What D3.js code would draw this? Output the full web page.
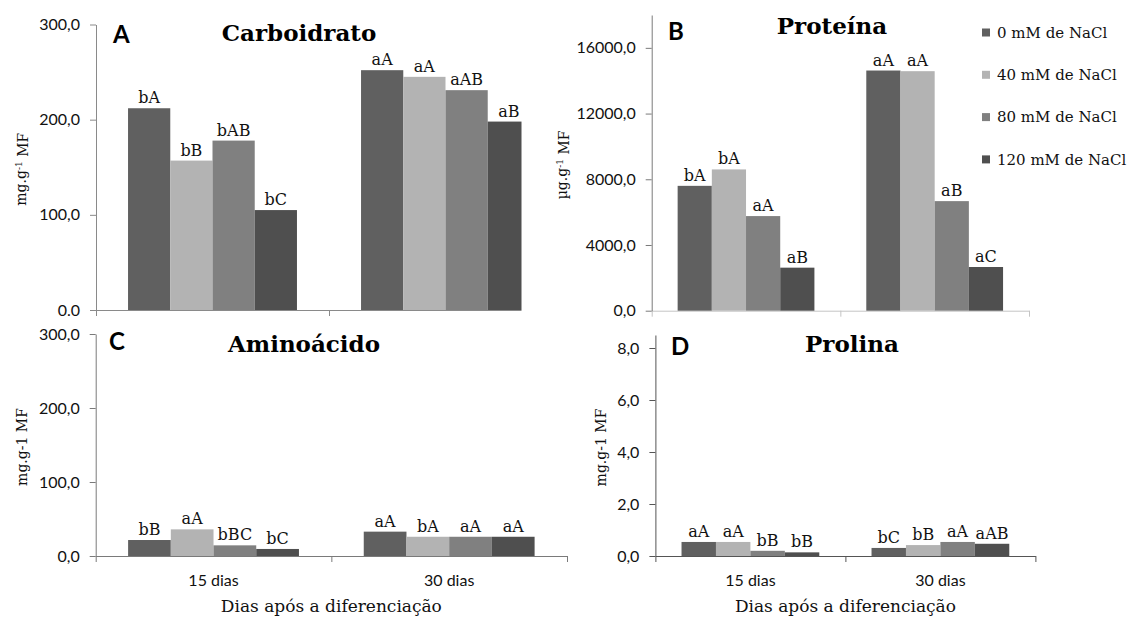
<!DOCTYPE html>
<html>
<head>
<meta charset="utf-8">
<script src="https://cdn.jsdelivr.net/npm/d3@7"></script>
<style>
  body { margin: 0; background: #fff; }
  svg { display: block; }
  .tick text { font-family: Lato, "Open Sans", sans-serif; }
</style>
</head>
<body>
<svg width="1129" height="617"></svg>
<script>
// categories and series
const days = ["15 dias", "30 dias"];
const series = ["0 mM de NaCl", "40 mM de NaCl", "80 mM de NaCl", "120 mM de NaCl"];
const colors = ["#606060", "#b3b3b3", "#808080", "#4f4f4f"];

// values, [15 dias, 30 dias] x series
const carboidrato = [[212, 157, 178, 105], [252, 245, 231, 198]];
const carboidratoLetters = [["bA", "bB", "bAB", "bC"], ["aA", "aA", "aAB", "aB"]];
const proteina = [[7600, 8600, 5760, 2620], [14620, 14580, 6670, 2660]];
const proteinaLetters = [["bA", "bA", "aA", "aB"], ["aA", "aA", "aB", "aC"]];
const aminoacido = [[21.6, 36, 14.4, 9.5], [32.9, 26, 26, 26]];
const aminoacidoLetters = [["bB", "aA", "bBC", "bC"], ["aA", "bA", "aA", "aA"]];
const prolina = [[0.54, 0.54, 0.2, 0.14], [0.31, 0.42, 0.54, 0.47]];
const prolinaLetters = [["aA", "aA", "bB", "bB"], ["bC", "bB", "aA", "aAB"]];

// tick values and labels
const carbTicks = [0, 100, 200, 300];
const carbTickLabels = ["0.0", "100,0", "200,0", "300,0"];
const protTicks = [0, 4000, 8000, 12000, 16000];
const protTickLabels = ["0,0", "4000,0", "8000,0", "12000,0", "16000,0"];
const aminoTicks = [0, 100, 200, 300];
const aminoTickLabels = ["0,0", "100,0", "200,0", "300,0"];
const prolTicks = [0, 2, 4, 6, 8];
const prolTickLabels = ["0,0", "2,0", "4,0", "6,0", "8,0"];

const svg = d3.select("svg");
const serif = "'DejaVu Serif', serif";
const sans = "Lato, 'Open Sans', sans-serif";

svg.append("clipPath").attr("id", "clipA")
  .append("rect").attr("x", 0).attr("y", 0).attr("width", 521.5).attr("height", 330);

const panels = [
  { letter: "A", title: "Carboidrato", values: carboidrato, letters: carboidratoLetters,
    ticks: carbTicks, tickLabels: carbTickLabels, ymax: 300,
    x0: 96, x1: 562, top: 24.5, bottom: 310, clip: "clipA",
    unit: "mg.g", sup: "-1", titleY: 41, titleX: 299, letterX: 113, letterY: 43,
    yTitleX: 21, axisColor: "#8a8a8a", xAxisColor: "#8a8a8a", showX: false },
  { letter: "B", title: "Proteína", values: proteina, letters: proteinaLetters,
    ticks: protTicks, tickLabels: protTickLabels, ymax: 18000,
    x0: 651.7, x1: 1029, top: 15, bottom: 310.7, clip: null,
    unit: "µg.g", sup: "-1", titleY: 34, titleX: 832, letterX: 668, letterY: 40,
    yTitleX: 562, axisColor: "#7a7a7a", xAxisColor: "#c4c4c4", showX: false },
  { letter: "C", title: "Aminoácido", values: aminoacido, letters: aminoacidoLetters,
    ticks: aminoTicks, tickLabels: aminoTickLabels, ymax: 300,
    x0: 95.7, x1: 567, top: 334, bottom: 556, clip: null,
    unit: "mg.g-1 MF", sup: null, titleY: 352, titleX: 304, letterX: 109, letterY: 350,
    yTitleX: 22, axisColor: "#7a7a7a", xAxisColor: "#7a7a7a", showX: true },
  { letter: "D", title: "Prolina", values: prolina, letters: prolinaLetters,
    ticks: prolTicks, tickLabels: prolTickLabels, ymax: 8.5,
    x0: 655.4, x1: 1035.4, top: 335, bottom: 556, clip: null,
    unit: "mg.g-1 MF", sup: null, titleY: 352, titleX: 852, letterX: 671, letterY: 355,
    yTitleX: 601.5, axisColor: "#555", xAxisColor: "#555", showX: true }
];

panels.forEach(p => {
  const g = svg.append("g");
  const x = d3.scaleBand().domain(days).range([p.x0, p.x1])
    .paddingInner(0.275).paddingOuter(0.1375);
  const xs = d3.scaleBand().domain(series).range([0, x.bandwidth()]);
  const y = d3.scaleLinear().domain([0, p.ymax]).range([p.bottom, p.top]);
  const cat = d3.scaleLinear().domain([0, days.length]).range([p.x0, p.x1]);

  const plot = g.append("g");
  if (p.clip) plot.attr("clip-path", `url(#${p.clip})`);

  // x axis line with ticks on category boundaries
  const xa = plot.append("g")
    .attr("transform", `translate(0,${p.bottom})`)
    .call(d3.axisBottom(cat).tickValues([0, 1, 2]).tickFormat("").tickSize(6).tickSizeOuter(0));
  xa.selectAll("path,line").attr("stroke", p.xAxisColor);

  const groups = plot.selectAll(".grp").data(p.values).join("g")
    .attr("transform", (d, i) => `translate(${x(days[i])},0)`);
  groups.selectAll("rect").data(d => d).join("rect")
    .attr("x", (d, j) => xs(series[j]))
    .attr("width", xs.bandwidth())
    .attr("y", d => y(d))
    .attr("height", d => p.bottom - y(d))
    .attr("fill", (d, j) => colors[j]);
  groups.selectAll("text").data((d, i) => d.map((v, j) => [v, p.letters[i][j]])).join("text")
    .attr("x", (d, j) => xs(series[j]) + xs.bandwidth() / 2)
    .attr("y", d => y(d[0]) - 5)
    .attr("text-anchor", "middle")
    .style("font-family", serif).style("font-size", "16px").attr("fill", "#111")
    .text(d => d[1]);

  // y axis
  const ya = g.append("g").attr("transform", `translate(${p.x0},0)`)
    .call(d3.axisLeft(y).tickValues(p.ticks).tickFormat((d, i) => p.tickLabels[i])
      .tickSize(6).tickSizeOuter(0).tickPadding(10));
  ya.selectAll("path,line").attr("stroke", p.axisColor);
  ya.selectAll("text").style("font-size", "16px").attr("fill", "#111");

  // category labels
  if (p.showX) {
    const xl = g.append("g").attr("transform", `translate(0,${p.bottom})`)
      .call(d3.axisBottom(x).tickSize(0).tickPadding(19));
    xl.select(".domain").remove();
    xl.selectAll("text").style("font-size", "16px").attr("fill", "#111");
    g.append("text").attr("x", (p.x0 + p.x1) / 2).attr("y", 612)
      .attr("text-anchor", "middle")
      .style("font-family", serif).style("font-size", "17px").attr("fill", "#111")
      .text("Dias após a diferenciação");
  }

  // titles
  g.append("text").attr("x", p.titleX).attr("y", p.titleY).attr("text-anchor", "middle")
    .style("font-family", serif).style("font-weight", "bold").style("font-size", "23px")
    .attr("fill", "#000").text(p.title);
  g.append("text").attr("x", p.letterX).attr("y", p.letterY)
    .style("font-family", sans).style("font-weight", "bold").style("font-size", "24px")
    .attr("fill", "#000").text(p.letter);

  // y axis title
  const yt = g.append("text")
    .attr("transform", `translate(${p.yTitleX},${(p.top + p.bottom) / 2 + 2}) rotate(-90)`)
    .attr("text-anchor", "middle").attr("dy", "0.35em")
    .style("font-family", serif).style("font-size", "14px").attr("fill", "#111");
  if (p.sup) {
    yt.append("tspan").text(p.unit);
    yt.append("tspan").attr("dy", "-0.45em").style("font-size", "9px").text(p.sup);
    yt.append("tspan").attr("dy", "0.45em").text(" MF");
  } else {
    yt.text(p.unit);
  }
});

// legend
const legend = svg.append("g").attr("transform", "translate(982,32.5)");
const items = legend.selectAll("g").data(series).join("g")
  .attr("transform", (d, i) => `translate(0,${i * 42.3})`);
items.append("rect").attr("x", 0).attr("y", -4).attr("width", 8).attr("height", 8)
  .attr("fill", (d, i) => colors[i]);
items.append("text").attr("x", 15).attr("dy", "0.35em")
  .style("font-family", serif).style("font-size", "15px").attr("fill", "#111")
  .text(d => d);
</script>
</body>
</html>
